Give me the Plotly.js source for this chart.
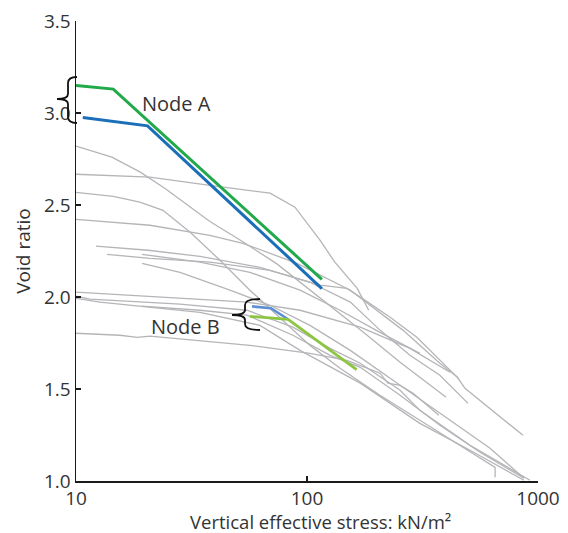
<!DOCTYPE html>
<html><head><meta charset="utf-8">
<script src="https://cdn.plot.ly/plotly-3.0.1.min.js"></script>
<style>body{margin:0;background:#fff}#c{width:568px;height:533px}</style>
</head><body><div id="c"></div>
<script>
// ---- data (vertical effective stress kN/m2, void ratio) ----
const nodeAGreenStress = [10, 14.5, 116];
const nodeAGreenVoid   = [3.15, 3.13, 2.096];
const nodeABlueStress  = [10.7, 20.4, 116];
const nodeABlueVoid    = [2.975, 2.93, 2.046];
const nodeBBlueStress  = [57.8, 69.8, 82.8];
const nodeBBlueVoid    = [1.949, 1.939, 1.879];
const nodeBGreenStress = [56.6, 82.8, 164];
const nodeBGreenVoid   = [1.895, 1.878, 1.605];

const g1s = [10, 14.3, 18.9, 24.3, 38, 51.3, 74.1, 103, 175, 253, 400];
const g1e = [2.82, 2.76, 2.68, 2.59, 2.41, 2.31, 2.18, 2.04, 1.81, 1.645, 1.455];
const g2s = [10, 20.9, 38, 69.2, 88.7, 114, 132, 165, 185];
const g2e = [2.667, 2.651, 2.607, 2.564, 2.488, 2.308, 2.189, 2.047, 1.928];
const g3s = [10, 14.5, 18.9, 23.8, 31.2, 42, 56.6, 76.4, 103, 139, 207, 308, 460, 652, 652];
const g3e = [2.569, 2.547, 2.515, 2.471, 2.352, 2.2, 2.037, 1.885, 1.737, 1.613, 1.466, 1.33, 1.194, 1.074, 1.02];
const g4s = [10, 20.9, 38, 52.8, 90.5, 154, 260, 376, 447, 483, 861];
const g4e = [2.422, 2.39, 2.335, 2.292, 2.183, 2.037, 1.82, 1.64, 1.565, 1.504, 1.248];
const g5s = [12.2, 20.5, 34.4, 62.6, 103, 154, 207, 279, 376, 498];
const g5e = [2.276, 2.254, 2.221, 2.161, 2.08, 1.972, 1.82, 1.683, 1.575, 1.422];
const g6s = [13.6, 20.9, 38, 69.2, 114, 149, 178, 229, 299, 451];
const g6e = [2.232, 2.21, 2.189, 2.145, 2.064, 2.047, 1.983, 1.89, 1.781, 1.559];
const g7s = [19.3, 34.4, 56.6, 93.3, 139, 207, 308];
const g7e = [2.232, 2.189, 2.134, 2.037, 1.928, 1.808, 1.694];
const g8s = [19.3, 28.2, 46.4, 69.2, 103, 154, 253, 416, 620, 869];
const g8e = [2.183, 2.134, 2.037, 1.955, 1.846, 1.71, 1.52, 1.33, 1.178, 1.015];
const g9s = [10, 20.9, 55, 93.3, 170, 279, 416];
const g9e = [2.026, 2.004, 1.972, 1.928, 1.836, 1.721, 1.591];
const g10s = [10, 11.5, 28.2, 55, 86.9, 126, 170, 253, 308, 508, 923];
const g10e = [2.004, 1.988, 1.961, 1.928, 1.836, 1.721, 1.64, 1.493, 1.384, 1.194, 1.004];
const g11s = [19.3, 34.4, 55, 86.9, 126, 170, 253, 376, 561, 869];
const g11e = [1.95, 1.928, 1.901, 1.792, 1.683, 1.618, 1.466, 1.303, 1.156, 1.015];
const g12s = [10, 15.5, 18.4, 20.9, 56.6, 103, 149, 170, 207, 224, 253, 288, 372];
const g12e = [1.803, 1.792, 1.781, 1.787, 1.737, 1.694, 1.656, 1.629, 1.586, 1.532, 1.52, 1.477, 1.357];
const g13s = [10, 12.7, 34.4, 62.6, 93.3, 170, 308, 508, 869];
const g13e = [1.993, 1.972, 1.917, 1.846, 1.71, 1.532, 1.313, 1.167, 1.004];
const g14s = [460, 923];
const g14e = [0.997, 0.992];

const xTicks = [10, 100, 1000];
const xTickText = ['10', '100', '1000'];
const yTicks = [1.0, 1.5, 2.0, 2.5, 3.0, 3.5];
const yTickText = ['1.0', '1.5', '2.0', '2.5', '3.0', '3.5'];

const grayCurves = [[g1s,g1e],[g2s,g2e],[g3s,g3e],[g4s,g4e],[g5s,g5e],[g6s,g6e],[g7s,g7e],
  [g8s,g8e],[g9s,g9e],[g10s,g10e],[g11s,g11e],[g12s,g12e],[g13s,g13e],[g14s,g14e]];

const traces = grayCurves.map(c => ({x:c[0], y:c[1], mode:'lines', type:'scatter',
  line:{color:'#b5b5b9', width:1.3}, hoverinfo:'skip'}));
traces.push({x:nodeBBlueStress, y:nodeBBlueVoid, mode:'lines', line:{color:'#5b8fd5', width:2.6}});
traces.push({x:nodeBGreenStress, y:nodeBGreenVoid, mode:'lines', line:{color:'#8cc540', width:2.8}});
traces.push({x:nodeABlueStress, y:nodeABlueVoid, mode:'lines', line:{color:'#1b6eb8', width:3}});
traces.push({x:nodeAGreenStress, y:nodeAGreenVoid, mode:'lines', line:{color:'#21a94a', width:3}});

// decoration: braces in pixel space -> paper
const L = 76, T = 21, W = 462, H = 460;
function p(px, py){ return ((px-L)/W).toFixed(4) + ',' + ((T+H-py)/H).toFixed(4); }
function brace(xr, xv, xt, y0, ym, y1){
  return 'M' + p(xr,y0) + ' Q' + p(xv,y0) + ' ' + p(xv,y0+6) + ' L' + p(xv,ym-5) +
    ' Q' + p(xv,ym) + ' ' + p(xt,ym) + ' Q' + p(xv,ym) + ' ' + p(xv,ym+5) +
    ' L' + p(xv,y1-6) + ' Q' + p(xv,y1) + ' ' + p(xr,y1);
}
const font = 'Open Sans, Noto Sans, sans-serif';
const layout = {
  width:568, height:533, showlegend:false,
  paper_bgcolor:'#fff', plot_bgcolor:'#fff',
  margin:{l:L, r:568-L-W, t:T, b:533-T-H},
  font:{family:font, size:19, color:'#333'},
  xaxis:{type:'log', range:[1,3], showline:true, linecolor:'#1a1a1a', linewidth:1.5,
    ticks:'inside', ticklen:5, tickwidth:1.5, tickcolor:'#1a1a1a',
    tickvals:xTicks, ticktext:xTickText, showgrid:false, zeroline:false,
    tickfont:{size:19, color:'#333'}},
  yaxis:{range:[1,3.5], showline:true, linecolor:'#1a1a1a', linewidth:1.5,
    ticks:'inside', ticklen:5, tickwidth:1.5, tickcolor:'#1a1a1a',
    tickvals:yTicks, ticktext:yTickText, showgrid:false, zeroline:false,
    tickfont:{size:19, color:'#333'},
    title:{text:'Void ratio', font:{size:19, color:'#333'}, standoff:8}},
  shapes:[
    {type:'path', xref:'paper', yref:'paper', path:brace(77,68,57,77,99,123), line:{color:'#111', width:1.8}},
    {type:'path', xref:'paper', yref:'paper', path:brace(260,245,232,299,315,330), line:{color:'#111', width:1.8}}
  ],
  annotations:[
    {x:(320-L)/W, y:(T+H-521)/H, xref:'paper', yref:'paper', yanchor:'middle', borderpad:0,
     text:'Vertical effective stress: kN/m²', showarrow:false, font:{size:18.5, color:'#333'}},
    {x:Math.log10(27.3), y:3.053, xref:'x', yref:'y', text:'Node A', showarrow:false, font:{size:20, color:'#333'}},
    {x:Math.log10(29.9), y:1.841, xref:'x', yref:'y', text:'Node B', showarrow:false, font:{size:20, color:'#333'}}
  ]
};
Plotly.newPlot('c', traces, layout, {displayModeBar:false, staticPlot:true});
</script>
</body></html>
